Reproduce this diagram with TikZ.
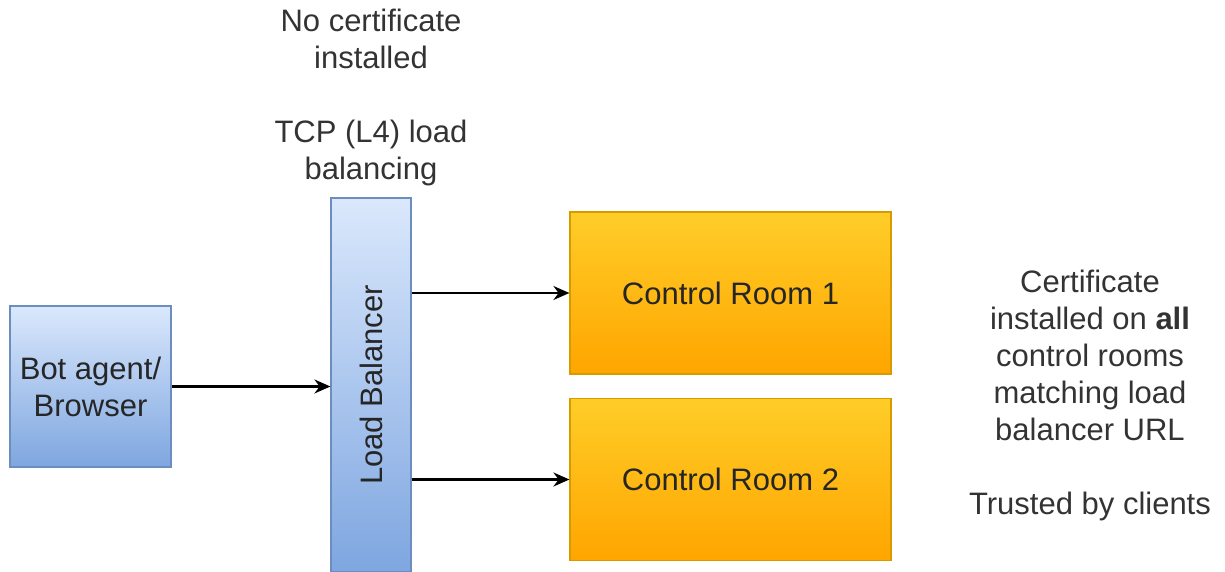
\documentclass[tikz,border=0pt]{standalone}
\usepackage{fontspec}
\setmainfont{Liberation Sans}
\usetikzlibrary{arrows.meta}
\definecolor{bluetop}{HTML}{DAE8FC}
\definecolor{bluebot}{HTML}{7EA6E0}
\definecolor{blueline}{HTML}{6C8EBF}
\definecolor{orangetop}{HTML}{FFCD28}
\definecolor{orangebot}{HTML}{FFA500}
\definecolor{orangeline}{HTML}{D79B00}
\definecolor{txtgray}{HTML}{333333}

\begin{document}
\begin{tikzpicture}[x=0.5pt, y=-0.5pt,
  every node/.style={font=\fontsize{15.5}{18.5}\selectfont, text=black!85, inner sep=0pt},
  bluebox/.style={draw=blueline, line width=0.6pt, top color=bluetop, bottom color=bluebot},
  orangebox/.style={draw=orangeline, line width=0.6pt, top color=orangetop, bottom color=orangebot,
    minimum width=160.5pt, minimum height=81pt},
  flow/.style={-{Stealth[length=8pt, width=7pt]}, line width=1.1pt, black},
  note/.style={align=center, text=txtgray}]
\useasboundingbox (0,0) rectangle (1225,572);
%----------------- clients and load balancer -----------------
\node[bluebox, minimum width=80.5pt, minimum height=80.5pt, align=center] (bot) at (90.5,386.5) {Bot agent/\\Browser};
\node[bluebox, rotate=90, minimum width=187pt, minimum height=40pt] (lb) at (371,385) {Load Balancer};
%----------------- control rooms -----------------
\node[orangebox] (cr1) at (730.5,293) {Control Room 1};
\node[orangebox] (cr2) at (730.5,479.5) {Control Room 2};
% connectors
\draw[flow] (bot.east) -- (bot.east -| lb.north);
\draw[flow] (cr1.west -| lb.south) -- (cr1.west);
\draw[flow] (cr2.west -| lb.south) -- (cr2.west);
%----------------- notes -----------------
\node[note] (lbnote) at (371,97) {No certificate\\installed\\[18.5pt]TCP (L4) load\\balancing};
\node[note] (crnote) at (1090,395) {Certificate\\installed on \textbf{all}\\control rooms\\matching load\\balancer URL\\[18.5pt]Trusted by clients};
\end{tikzpicture}
\end{document}
